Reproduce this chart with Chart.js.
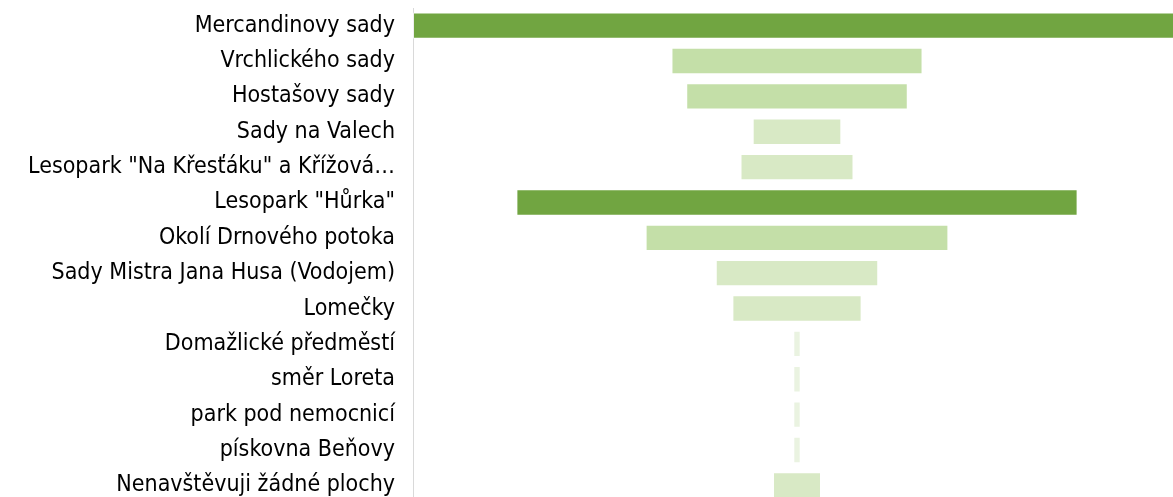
<!DOCTYPE html>
<html>
<head>
<meta charset="utf-8">
<script src="https://cdn.jsdelivr.net/npm/chart.js@4"></script>
<style>
    html, body { margin: 0; padding: 0; overflow: hidden; background: #fff; }
    #funnelChart { position: absolute; left: 0; top: 0; }
</style>
</head>
<body>
<canvas id="funnelChart" width="1190" height="512"></canvas>
<script>
// Categories (top to bottom)
const labels = [
    'Mercandinovy sady',
    'Vrchlického sady',
    'Hostašovy sady',
    'Sady na Valech',
    'Lesopark "Na Křesťáku" a Křížová…',
    'Lesopark "Hůrka"',
    'Okolí Drnového potoka',
    'Sady Mistra Jana Husa (Vodojem)',
    'Lomečky',
    'Domažlické předměstí',
    'směr Loreta',
    'park pod nemocnicí',
    'pískovna Beňovy',
    'Nenavštěvuji žádné plochy'
];

// Values
const values = [104, 34, 30, 12, 15.3, 76, 41, 22, 17.5, 1, 1, 1, 1, 6.5];

// Fill colour per bar
const colors = [
    '#71A541', '#C4DFA8', '#C4DFA8', '#D8E9C5', '#D8E9C5',
    '#71A541', '#C4DFA8', '#D8E9C5', '#D8E9C5', '#EAF3E1',
    '#EAF3E1', '#EAF3E1', '#EAF3E1', '#D8E9C5'
];

const maxValue = Math.max(...values);

// Funnel: each bar centred on zero
const floating = values.map(v => [-v / 2, v / 2]);

const ctx = document.getElementById('funnelChart').getContext('2d');
new Chart(ctx, {
    type: 'bar',
    data: {
        labels: labels,
        datasets: [{
            data: floating,
            backgroundColor: colors,
            borderColor: 'rgba(255,255,255,0.55)',
            borderWidth: 1,
            borderSkipped: false,
            barPercentage: 0.745,
            categoryPercentage: 1.0
        }]
    },
    options: {
        indexAxis: 'y',
        responsive: false,
        animation: false,
        devicePixelRatio: 1,
        layout: {
            padding: { top: 8, bottom: 9, right: 9, left: 0 }
        },
        plugins: {
            legend: { display: false },
            tooltip: { enabled: false }
        },
        scales: {
            x: {
                display: false,
                min: -maxValue / 2,
                max: maxValue / 2
            },
            y: {
                afterFit: (scale) => {
                    scale.width = 413;
                    scale.paddingTop = 0;
                    scale.paddingBottom = 0;
                },
                grid: { display: false, drawTicks: false },
                border: { display: true, color: '#D9D9D9', width: 1 },
                ticks: {
                    color: '#000',
                    padding: 18,
                    autoSkip: false,
                    font: { family: '"DejaVu Sans Condensed", "DejaVu Sans", sans-serif', size: 23 }
                }
            }
        }
    }
});
</script>
</body>
</html>
